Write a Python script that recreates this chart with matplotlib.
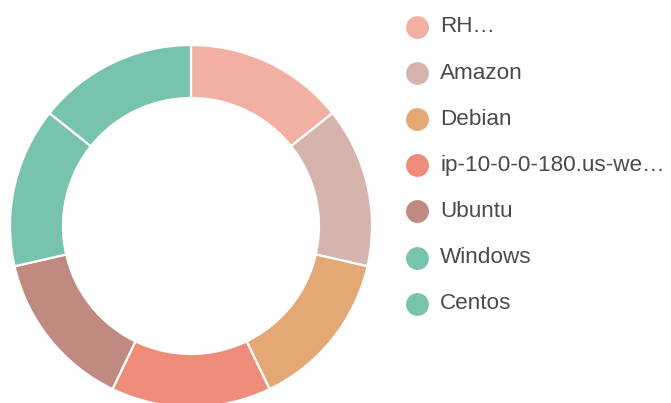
import matplotlib
matplotlib.use('Agg')
import matplotlib.pyplot as plt

labels = ['RH…', 'Amazon', 'Debian', 'ip-10-0-0-180.us-we…', 'Ubuntu', 'Windows', 'Centos']
values = [1, 1, 1, 1, 1, 1, 1]
colors = ['#F2B0A3', '#D6B3AC', '#E3A874', '#EE8B79', '#BF8A80', '#77C3AD', '#77C3AD']

W, H = 671, 403
fig = plt.figure(figsize=(W / 100, H / 100), dpi=100)
ax = fig.add_axes([0, 0, 1, 1])

# donut, coordinates in pixels (y up)
ax.pie(values, colors=colors, startangle=90, counterclock=False,
       center=(191, H - 226), radius=181,
       wedgeprops=dict(width=181 - 128, edgecolor='white', linewidth=1.6))

# legend drawn by hand
for i, (lab, col) in enumerate(zip(labels, colors)):
    y = H - (27 + i * 46.1)
    ax.scatter([417], [y], s=270, color=col, zorder=3, linewidths=0)
    ax.text(440, y, lab, fontsize=16.2, family='Liberation Sans',
            color='#4a4a4a', va='center', ha='left')

ax.set_xlim(0, W)
ax.set_ylim(0, H)
ax.set_aspect('auto')
ax.axis('off')

fig.savefig('out.png', dpi=100)
